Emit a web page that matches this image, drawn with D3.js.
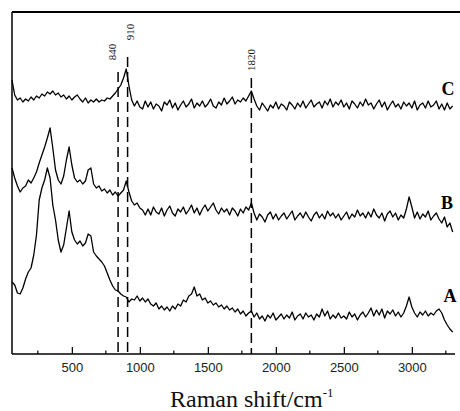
<!DOCTYPE html>
<html>
<head>
<meta charset="utf-8">
<script src="https://cdn.jsdelivr.net/npm/d3@7"></script>
<style>
  body { margin: 0; background: #fff; }
  svg { display: block; }
</style>
</head>
<body>
<div id="viz"></div>
<script>
///Data
// Raman shift grid of the digitised spectra (cm-1)
const SHIFTS = d3.range(60, 3301, 20);

// intensities (arbitrary units, offset spectra)
const SPECTRUM_C = [
  274, 259, 254, 256, 252, 255, 253, 257, 254, 258,
  256, 260, 258, 262, 260, 263, 259, 261, 257, 259,
  255, 258, 254, 257, 259, 255, 252, 256, 251, 254,
  252, 255, 252, 254, 253, 256, 255, 258, 261, 265,
  269, 276, 285, 268, 254, 248, 253, 247, 245, 253,
  247, 252, 245, 250, 248, 243, 252, 249, 254, 246,
  251, 244, 249, 253, 247, 250, 255, 246, 251, 248,
  253, 247, 250, 255, 248, 246, 252, 249, 256, 250,
  253, 257, 250, 254, 252, 256, 253, 258, 263, 255,
  248, 244, 251, 247, 243, 249, 246, 252, 245, 250,
  248, 244, 252, 249, 245, 251, 247, 253, 246, 250,
  254, 247, 250, 252, 246, 253, 249, 255, 247, 252,
  249, 254, 247, 251, 245, 253, 250, 246, 252, 248,
  255, 249, 251, 245, 250, 254, 247, 252, 244, 249,
  253, 247, 250, 245, 252, 248, 251, 246, 253, 244,
  249, 251, 246, 253, 247, 249, 253, 245, 250, 244,
  251, 245, 248
];
const SPECTRUM_B = [
  186, 176, 168, 162, 166, 168, 174, 171, 176, 182,
  191, 199, 207, 216, 226, 206, 184, 174, 170, 178,
  194, 207, 189, 176, 172, 174, 170, 173, 184, 186,
  170, 166, 168, 163, 165, 161, 164, 159, 162, 158,
  161, 164, 173, 162, 153, 149, 151, 146, 144, 139,
  145, 139, 147, 142, 140, 146, 138, 144, 148, 141,
  138, 145, 142, 147, 140, 144, 149, 141, 146, 139,
  145, 149, 143, 147, 151, 144, 140, 146, 142, 145,
  139, 146, 143, 138, 145, 141, 147, 144, 151, 141,
  134, 140, 137, 132, 139, 142, 135, 140, 134, 138,
  141, 135, 139, 143, 134, 138, 141, 136, 142, 137,
  133, 139, 142, 136, 140, 135, 143, 138, 141, 136,
  140, 134, 138, 142, 135, 140, 137, 144, 138, 141,
  136, 142, 137, 145, 139, 136, 141, 133, 140, 143,
  137, 141, 134, 139, 136, 145, 157, 147, 136, 142,
  135, 140, 137, 143, 134, 138, 141, 135, 131, 137,
  127, 131, 122
];
const SPECTRUM_A = [
  72, 69, 61, 60, 66, 75, 82, 86, 99, 119,
  154, 166, 174, 186, 176, 149, 134, 114, 102, 109,
  126, 143, 122, 114, 110, 113, 108, 111, 120, 118,
  102, 98, 95, 92, 88, 81, 74, 68, 64, 63,
  60, 58, 57, 52, 55, 54, 58, 53, 56, 52,
  55, 50, 48, 51, 45, 48, 44, 47, 43, 48,
  45, 50, 48, 54, 52, 58, 60, 67, 58, 60,
  54, 56, 51, 53, 49, 51, 47, 49, 45, 48,
  44, 46, 42, 45, 40, 43, 38, 41, 43, 37,
  41, 35, 38, 33, 39, 36, 41, 34, 37, 40,
  35, 39, 36, 42, 34, 38, 40, 35, 41, 37,
  39, 34, 40, 37, 45, 38, 43, 35, 39, 36,
  41, 36, 38, 35, 42, 37, 40, 34, 39, 42,
  37, 41, 46, 38, 44, 39, 45, 36, 43, 40,
  44, 38, 42, 37, 41, 48, 57, 47, 41, 37,
  42, 39, 43, 38, 41, 39, 43, 45, 41, 34,
  29, 25, 22
];
const SERIES_NAMES = ["C", "B", "A"];

// marked bands
const MARK_SHIFTS = [840, 910, 1820];
const MARK_LABELS = ["840", "910", "1820"];

// axis ticks
const MAJOR_TICKS = [500, 1000, 1500, 2000, 2500, 3000];
const MINOR_TICKS = [250, 750, 1250, 1750, 2250, 2750, 3250];

///Layout
const width = 460, height = 411;
const plotLeft = 12, plotTop = 12, plotBottom = 354, plotRight = 454;

var svg = d3.select('#viz').append('svg').attr('width', width).attr('height', height);

var x = d3.scaleLinear().domain([60, 3310]).range([plotLeft, plotRight]);
var y = d3.scaleLinear().domain([0, plotBottom - plotTop]).range([plotBottom, plotTop]);

// frame: left axis and top rule
svg.append('line').attr('x1', plotLeft).attr('x2', plotLeft).attr('y1', plotTop).attr('y2', plotBottom)
    .attr('stroke', '#000').attr('stroke-width', 1.5);
svg.append('line').attr('x1', plotLeft).attr('x2', 460).attr('y1', plotTop).attr('y2', plotTop)
    .attr('stroke', '#000').attr('stroke-width', 2);

// bottom axis, ticks pointing inward
var axis = svg.append('g').attr('transform', 'translate(0,' + plotBottom + ')')
    .call(d3.axisBottom(x).tickValues(MAJOR_TICKS).tickFormat(d3.format('d'))
        .tickSize(-7).tickSizeOuter(0).tickPadding(9));
axis.select('.domain').attr('stroke-width', 1.5).attr('d', 'M' + plotLeft + ',0H455');
axis.selectAll('.tick line').attr('stroke-width', 1.2);
axis.selectAll('.tick text').attr('font-family', 'Liberation Sans, Arial, sans-serif')
    .attr('font-size', 13).attr('fill', '#222');

svg.append('g').attr('transform', 'translate(0,' + plotBottom + ')')
    .selectAll('line').data(MINOR_TICKS).enter().append('line')
    .attr('x1', d => x(d)).attr('x2', d => x(d)).attr('y1', 0).attr('y2', -3.5)
    .attr('stroke', '#000').attr('stroke-width', 1.2);

// dashed marker lines with rotated labels
const markTop = [72, 57, 78];
const labelPos = [[112, 52], [129.5, 32], [250.5, 60]];
MARK_SHIFTS.forEach(function (s, i) {
    svg.append('line').attr('x1', x(s)).attr('x2', x(s)).attr('y1', markTop[i]).attr('y2', plotBottom)
        .attr('stroke', '#000').attr('stroke-width', 1.5).attr('stroke-dasharray', '10,5');
    svg.append('text')
        .attr('transform', 'translate(' + labelPos[i][0] + ',' + labelPos[i][1] + ') rotate(-90)')
        .attr('text-anchor', 'middle').attr('dominant-baseline', 'central')
        .attr('font-family', 'Liberation Serif, Times New Roman, serif').attr('font-size', 11)
        .attr('fill', '#111').text(MARK_LABELS[i]);
});

// spectra
var line = d3.line().x((d, i) => x(SHIFTS[i])).y(d => y(d));
var spectra = [SPECTRUM_C, SPECTRUM_B, SPECTRUM_A];
svg.selectAll('path.spec').data(spectra).enter().append('path')
    .attr('class', 'spec')
    .attr('d', line)
    .attr('fill', 'none').attr('stroke', '#000').attr('stroke-width', 1.3)
    .attr('stroke-linejoin', 'round');

// series letters
const letterPos = [[448, 95], [447, 209], [450, 302]];
SERIES_NAMES.forEach(function (n, i) {
    svg.append('text').attr('x', letterPos[i][0]).attr('y', letterPos[i][1])
        .attr('text-anchor', 'middle')
        .attr('font-family', 'Liberation Serif, Times New Roman, serif')
        .attr('font-weight', 'bold').attr('font-size', 18).text(n);
});

// axis title
var title = svg.append('text').attr('x', 170).attr('y', 407)
    .attr('font-family', 'Liberation Serif, Times New Roman, serif').attr('font-size', 24)
    .attr('fill', '#111');
title.append('tspan').text('Raman shift/cm');
title.append('tspan').attr('dy', -10).attr('font-size', 13).text('-1');
</script>
</body>
</html>
